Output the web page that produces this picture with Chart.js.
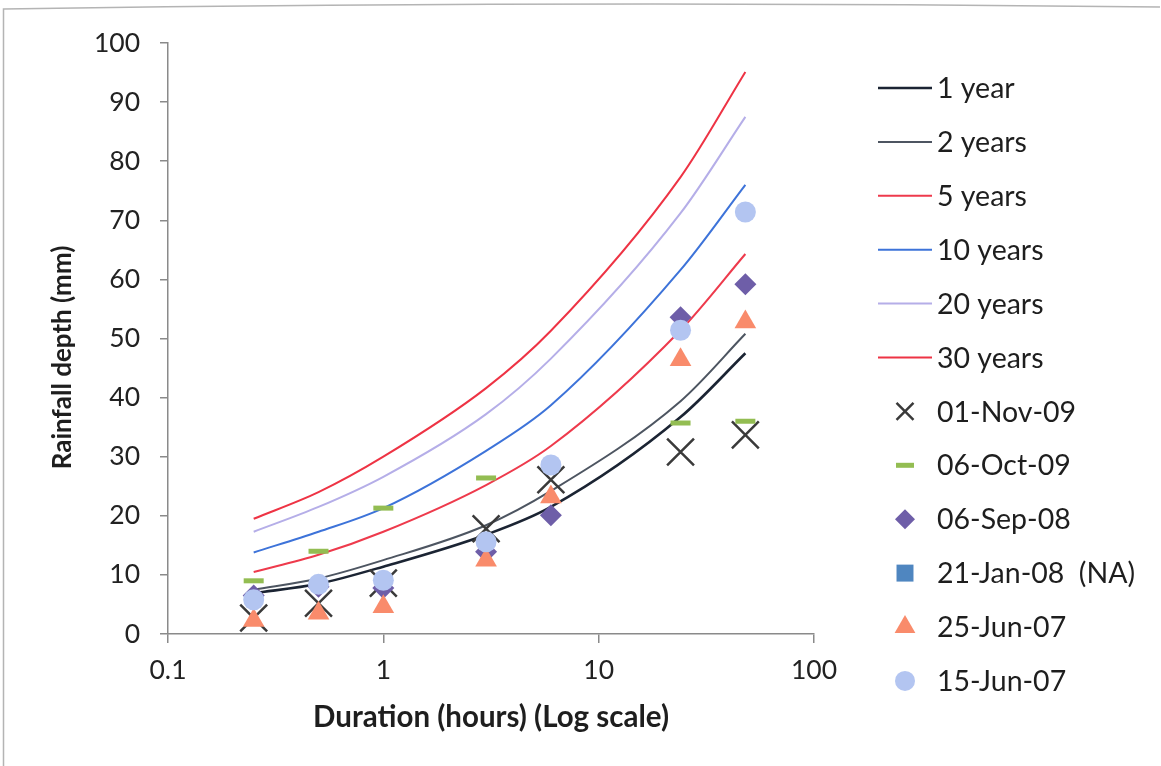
<!DOCTYPE html>
<html><head><meta charset="utf-8">
<script src="https://cdn.jsdelivr.net/npm/chart.js@4.4.1/dist/chart.umd.min.js"></script>
<style>html,body{margin:0;padding:0;background:#fff}#wrap{position:relative;width:1161px;height:766px}</style>
</head><body><div id="wrap"><canvas id="c" width="1161" height="766"></canvas></div>
<script>
// ---- data ----
const durations = [0.25, 0.5, 1, 3, 6, 24, 48];
const xTickValues = [0.1, 1, 10, 100];
const xTickLabels = ['0.1', '1', '10', '100'];
const year1  = [6.9, 8.5, 11.4, 16.8, 21.5, 36.7, 47.5];
const year2  = [7.5, 9.4, 12.5, 18.4, 24.2, 39.4, 50.8];
const year5  = [10.5, 13.4, 17.3, 25.2, 31.8, 51.4, 64.3];
const year10 = [13.8, 17.3, 21.3, 31.0, 38.7, 61.6, 76.0];
const year20 = [17.3, 21.5, 26.6, 37.2, 46.6, 71.2, 87.5];
const year30 = [19.5, 24.0, 30.0, 41.6, 51.3, 77.3, 95.1];
const nov09  = [2.7, 5.2, 8.6, 17.8, 26.1, 30.8, 33.7];
const oct09  = [9.0, 14.0, 21.3, 26.4, null, 35.7, 36.0];
const sep08  = [6.5, 8.0, 7.8, 13.9, 20.1, 53.6, 59.2];
const jan08  = [null, null, null, null, null, null, null];
const jun25  = [2.3, 3.5, 4.6, 12.5, 23.2, 46.4, 52.8];
const jun15  = [5.8, 8.4, 9.1, 15.6, 28.6, 51.4, 71.4];

const FONT = 'Lato, "Open Sans", sans-serif';
const pts = arr => durations.map((d, i) => ({x: d, y: arr[i]})).filter(p => p.y !== null);

const lineDefs = [
  ['1 year', year1, '#1b2433', 2.6],
  ['2 years', year2, '#4d5561', 2],
  ['5 years', year5, '#ee3a4c', 2],
  ['10 years', year10, '#3d73d9', 2],
  ['20 years', year20, '#b5aee8', 2],
  ['30 years', year30, '#ee3344', 2],
];
const markerDefs = [
  ['01-Nov-09', nov09, 'crossRot', '#3a3a3a', 19, 2.5, 12],
  ['06-Oct-09', oct09, 'line', '#93bd52', 10, 5, 9],
  ['06-Sep-08', sep08, 'rectRot', '#6e5ea8', 11, 0, 10],
  ['21-Jan-08  (NA)', jan08, 'rect', '#4f86c0', 12, 0, 12],
  ['25-Jun-07', jun25, 'triangle', '#f98b6b', 12.5, 0, 12],
  ['15-Jun-07', jun15, 'circle', '#b3c5f1', 10.5, 0, 10],
];

const datasets = [];
lineDefs.forEach(([label, arr, color, w], i) => datasets.push({
  label, data: pts(arr), showLine: true, borderColor: color, backgroundColor: color,
  borderWidth: w, pointRadius: 0, pointHoverRadius: 0, cubicInterpolationMode: 'monotone',
  order: 100 - i, legendSize: 0
}));
markerDefs.forEach(([label, arr, style, color, r, bw, lr], j) => datasets.push({
  label, data: pts(arr), showLine: false, pointStyle: style,
  backgroundColor: color, borderColor: color, borderWidth: bw,
  pointRadius: r, pointHoverRadius: r, order: 50 - j, legendSize: lr
}));

const framePlugin = {
  id: 'frame',
  beforeDraw(chart) {
    const c = chart.ctx;
    c.save();
    c.fillStyle = '#fff'; c.fillRect(0, 0, chart.width, chart.height);
    c.strokeStyle = '#b4b4b4'; c.lineWidth = 1.5;
    c.beginPath();
    c.moveTo(3.5, 780); c.lineTo(3.5, 9); c.quadraticCurveTo(580, 0, 1160, 7);
    c.stroke();
    c.restore();
  }
};

const LEG_X_LINE0 = 878, LEG_X_LINE1 = 932, LEG_X_MARK = 905, LEG_X_TEXT = 937;
const LEG_Y0 = 88, LEG_STEP = 53.9;
const legendPlugin = {
  id: 'sideLegend',
  afterDraw(chart) {
    const c = chart.ctx;
    c.save();
    c.font = '28.5px ' + FONT;
    c.textBaseline = 'middle';
    c.textAlign = 'left';
    chart.data.datasets.forEach((ds, i) => {
      const y = LEG_Y0 + i * LEG_STEP;
      c.fillStyle = ds.backgroundColor; c.strokeStyle = ds.borderColor;
      if (ds.showLine) {
        c.lineWidth = ds.borderWidth;
        c.beginPath(); c.moveTo(LEG_X_LINE0, y); c.lineTo(LEG_X_LINE1, y); c.stroke();
      } else {
        c.lineWidth = ds.borderWidth || 1;
        Chart.helpers.drawPoint(c, {pointStyle: ds.pointStyle, radius: ds.legendSize, borderWidth: ds.borderWidth, rotation: 0}, LEG_X_MARK, y);
      }
      c.fillStyle = '#1e1e1e';
      c.fillText(ds.label, LEG_X_TEXT, y + 1);
    });
    c.restore();
  }
};

new Chart(document.getElementById('c'), {
  type: 'scatter',
  data: { datasets },
  plugins: [framePlugin, legendPlugin],
  options: {
    responsive: false, animation: false,
    layout: { padding: { top: 43, right: 347, left: 0, bottom: 0 } },
    plugins: { legend: { display: false }, tooltip: { enabled: false } },
    scales: {
      x: {
        type: 'logarithmic', min: 0.1, max: 100, position: 'bottom',
        afterBuildTicks: s => { s.ticks = xTickValues.map(v => ({value: v})); },
        afterFit: s => { s.height = 132; },
        grid: { drawOnChartArea: false, drawTicks: true, tickLength: 9, color: '#8a8a8a', lineWidth: 1.5 },
        border: { color: '#8a8a8a', width: 1.5 },
        ticks: { font: { family: FONT, size: 26.5 }, color: '#222', padding: 12, maxRotation: 0,
          callback: (v) => { const k = xTickValues.indexOf(v); return k >= 0 ? xTickLabels[k] : ''; } },
        title: { display: true, text: 'Duration (hours) (Log scale)', font: { family: FONT, size: 29.5, weight: 'bold' }, color: '#1e1e1e', padding: { top: 0, bottom: 31 } }
      },
      y: {
        min: 0, max: 100,
        afterFit: s => { s.width = 168; },
        grid: { drawOnChartArea: false, drawTicks: true, tickLength: 8, color: '#8a8a8a', lineWidth: 1.5 },
        border: { color: '#8a8a8a', width: 1.5 },
        ticks: { stepSize: 10, font: { family: FONT, size: 26.5 }, color: '#222', padding: 20 },
        title: { display: true, text: 'Rainfall depth (mm)      ', font: { family: FONT, size: 26, weight: 'bold' }, color: '#1e1e1e', padding: { top: 47, bottom: 0 } }
      }
    }
  }
});
</script></body></html>
